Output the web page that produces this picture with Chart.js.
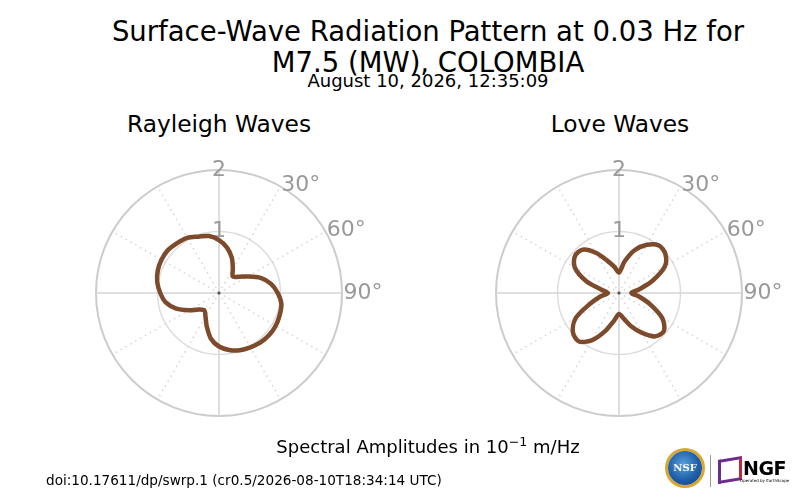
<!DOCTYPE html>
<html>
<head>
<meta charset="utf-8">
<title>Surface-Wave Radiation Pattern</title>
<script src="https://cdn.jsdelivr.net/npm/chart.js@4/dist/chart.umd.min.js"></script>
<style>
  body { margin: 0; background: #fff; }
  #page { position: relative; width: 800px; height: 500px; overflow: hidden; font-family: 'DejaVu Sans', sans-serif; color: #000; }
  .txt { position: absolute; white-space: nowrap; line-height: 1; }
  .center { text-align: center; }
  canvas { position: absolute; top: 0; }
  #rayleigh { left: 0; }
  #love { left: 400px; }
  sup { font-size: 0.7em; vertical-align: 0.55em; line-height: 0; }
  #nsf { position: absolute; left: 668px; top: 451px; width: 34px; height: 34px; border-radius: 50%;
         background: radial-gradient(circle at 45% 40%, #5aa0e0 0%, #1f5fa8 55%, #123c78 100%);
         box-shadow: 0 0 0 3px #d9a730; }
  #nsf span { position: absolute; left: 0; width: 34px; top: 11px; text-align: center; font: bold 10px 'DejaVu Serif', serif; color: #fff; }
  #sep { position: absolute; left: 710px; top: 455px; width: 1px; height: 32px; background: #999; }
  #ngfmark { position: absolute; left: 718px; top: 458px; width: 18px; height: 18px; border: 3px solid #6b2c8f; border-right-color: #c0283c; transform: skewY(-10deg); }
  #ngf { position: absolute; left: 743px; top: 457px; font: bold 19px 'DejaVu Sans', sans-serif; letter-spacing: -0.5px; }
  #ngfsub { position: absolute; left: 740px; top: 478px; font: 4px 'DejaVu Sans', sans-serif; }
</style>
</head>
<body>
<div id="page">
  <div class="txt center" style="left:28px; width:800px; top:18px; font-size:27.5px;">Surface-Wave Radiation Pattern at 0.03 Hz for</div>
  <div class="txt center" style="left:28px; width:800px; top:49px; font-size:27.5px;">M7.5 (MW), COLOMBIA</div>
  <div class="txt center" style="left:28px; width:800px; top:72px; font-size:18px;">August 10, 2026, 12:35:09</div>
  <div class="txt center" style="left:19px; width:400px; top:112px; font-size:23.3px;">Rayleigh Waves</div>
  <div class="txt center" style="left:420px; width:400px; top:112px; font-size:23.3px;">Love Waves</div>
  <canvas id="rayleigh" width="400" height="500"></canvas>
  <canvas id="love" width="400" height="500"></canvas>
  <div class="txt center" style="left:28px; width:800px; top:438px; font-size:18px;">Spectral Amplitudes in 10<sup>&minus;1</sup> m/Hz</div>
  <div class="txt" style="left:46px; top:474px; font-size:13.6px;">doi:10.17611/dp/swrp.1 (cr0.5/2026-08-10T18:34:14 UTC)</div>
  <div id="nsf"><span>NSF</span></div>
  <div id="sep"></div>
  <div id="ngfmark"></div>
  <div id="ngf">NGF</div>
  <div id="ngfsub">Operated by EarthScope</div>
</div>
<script>
'use strict';

// azimuth of each sample, clockwise from north (10 degree steps)
const azimuths = ['0°', '10°', '20°', '30°', '40°', '50°', '60°', '70°', '80°',
  '90°', '100°', '110°', '120°', '130°', '140°', '150°', '160°', '170°',
  '180°', '190°', '200°', '210°', '220°', '230°', '240°', '250°', '260°',
  '270°', '280°', '290°', '300°', '310°', '320°', '330°', '340°', '350°'];

// amplitudes, 10^-1 m/Hz
const rayleighAmp = [0.86, 0.75, 0.61, 0.45, 0.35, 0.41, 0.54, 0.72, 0.86,
  0.955, 1.03, 1.05, 1.065, 1.065, 1.05, 1.02, 0.99, 0.94,
  0.87, 0.755, 0.58, 0.44, 0.37, 0.42, 0.56, 0.74, 0.88,
  0.955, 1.02, 1.06, 1.08, 1.085, 1.06, 1.035, 0.975, 0.94];

const loveAmp = [0.335, 0.52, 0.74, 0.905, 1.01, 0.985, 0.86, 0.58, 0.33,
  0.2, 0.33, 0.54, 0.81, 0.955, 0.92, 0.75, 0.575, 0.42,
  0.34, 0.455, 0.66, 0.89, 1.025, 0.98, 0.81, 0.49, 0.3,
  0.18, 0.28, 0.57, 0.83, 0.935, 0.92, 0.755, 0.56, 0.43];

const radialTicks = [0, 1, 2];
const shownAzimuths = ['30°', '60°', '90°'];

const FONT = "'DejaVu Sans', sans-serif";
const lineColor = '#7d4a2b';

// theta labels only on the right-hand side, plus the small centre dot
const polarDecor = {
  id: 'polarDecor',
  afterDraw: function (chart) {
    const scale = chart.scales.r;
    const ctx = chart.ctx;
    ctx.save();
    ctx.font = '22px ' + FONT;
    ctx.fillStyle = '#999999';
    ctx.textAlign = 'left';
    ctx.textBaseline = 'alphabetic';
    azimuths.forEach(function (label, i) {
      if (shownAzimuths.indexOf(label) === -1) return;
      const pos = scale.getPointPosition(i, scale.drawingArea + 1.5);
      ctx.fillText(label, pos.x, pos.y + 5.5);
    });
    ctx.fillStyle = '#555555';
    ctx.beginPath();
    ctx.arc(scale.xCenter, scale.yCenter, 1.6, 0, Math.PI * 2);
    ctx.fill();
    ctx.restore();
  }
};

function makePolar(id, values) {
  const ctx = document.getElementById(id).getContext('2d');
  return new Chart(ctx, {
    type: 'radar',
    data: {
      labels: azimuths,
      datasets: [{
        data: values,
        borderColor: lineColor,
        borderWidth: 4.5,
        backgroundColor: 'transparent',
        fill: false,
        pointRadius: 0,
        tension: 0.3,
      }],
    },
    options: {
      responsive: false,
      animation: false,
      layout: {
        padding: { left: 85, right: 47, top: 159, bottom: 73 },
      },
      plugins: {
        legend: { display: false },
        tooltip: { enabled: false },
      },
      scales: {
        r: {
          min: radialTicks[0],
          max: radialTicks[radialTicks.length - 1],
          ticks: {
            stepSize: 1,
            color: '#999999',
            font: { size: 22, family: FONT },
            showLabelBackdrop: false,
            backdropPadding: 0,
          },
          grid: {
            circular: true,
            color: function (c) { return c.index === 2 ? '#cccccc' : '#dddddd'; },
            lineWidth: function (c) { return c.index === 2 ? 2 : 1.5; },
          },
          angleLines: {
            color: function (c) { return c.index % 9 === 0 ? '#d6d6d6' : '#d9d9d9'; },
            lineWidth: function (c) { return c.index % 3 === 0 ? 1.6 : 0; },
            borderDash: function (c) { return c.index % 9 === 0 ? [] : [1.6, 4]; },
          },
          pointLabels: { display: false },
        },
      },
    },
    plugins: [polarDecor],
  });
}

makePolar('rayleigh', rayleighAmp);
makePolar('love', loveAmp);
</script>
</body>
</html>
